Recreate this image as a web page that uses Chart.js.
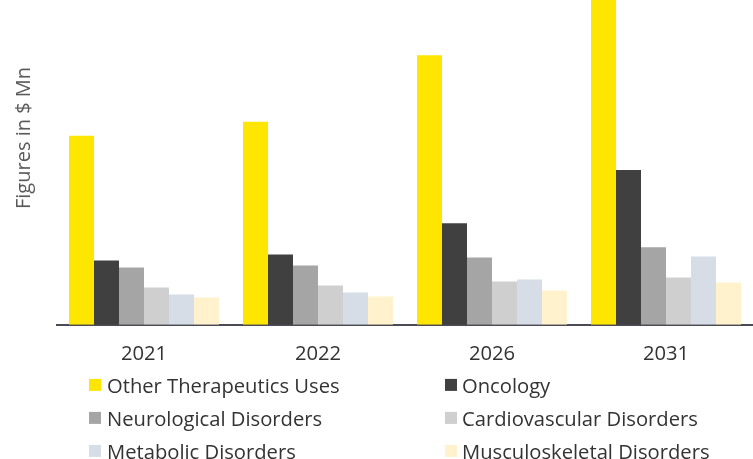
<!DOCTYPE html>
<html>
<head>
<meta charset="utf-8">
<script src="https://cdn.jsdelivr.net/npm/chart.js@4/dist/chart.umd.min.js"></script>
<style>
  html, body { margin: 0; padding: 0; background: #ffffff; }
  #wrap { position: relative; width: 753px; height: 459px; overflow: hidden; }
  #c { position: absolute; left: 0; top: 0; }
  #ytitle {
    position: absolute; left: 23px; top: 138px;
    transform: translate(-50%, -50%) rotate(-90deg);
    font-family: "Open Sans", sans-serif; font-size: 20px; color: #595959;
    white-space: nowrap; line-height: 1;
  }
  .lg { position: absolute; font-family: "Open Sans", sans-serif; font-size: 20.2px; color: #333333;
        white-space: nowrap; line-height: 1; transform: translateY(-50%); }
  .lg span.sw { position: absolute; width: 12px; height: 12px; top: 50%; transform: translateY(-50%); }
</style>
</head>
<body>
<div id="wrap">
  <canvas id="c" width="753" height="459"></canvas>
  <div id="ytitle">Figures in $ Mn</div>
  <div id="legend"></div>
</div>
<script>
// ---- data ----
const categories = ["2021", "2022", "2026", "2031"];
const seriesNames = [
  "Other Therapeutics Uses",
  "Oncology",
  "Neurological Disorders",
  "Cardiovascular Disorders",
  "Metabolic Disorders",
  "Musculoskeletal Disorders"
];
const otherTherapeutics = [188, 202, 268, 380];
const oncology = [64, 70, 101, 154];
const neurological = [57, 59, 67, 77];
const cardiovascular = [37, 39, 43, 47];
const metabolic = [30, 32, 45, 68];
const musculoskeletal = [27, 28, 34, 42];
const yAxisTitle = "Figures in $ Mn";

const seriesValues = [otherTherapeutics, oncology, neurological, cardiovascular, metabolic, musculoskeletal];
const colors = ["#FFE600", "#404040", "#A5A5A5", "#D0CFCF", "#D6DDE6", "#FFF2CC"];

const datasets = seriesNames.map((name, i) => ({
  label: name,
  data: seriesValues[i],
  backgroundColor: colors[i],
  borderWidth: 0,
  categoryPercentage: 0.862,
  barPercentage: 1.0
}));

new Chart(document.getElementById("c"), {
  type: "bar",
  data: { labels: categories, datasets: datasets },
  options: {
    responsive: false,
    animation: false,
    devicePixelRatio: 1,
    layout: { padding: { left: 57, right: 0, top: 0, bottom: 76 } },
    plugins: { legend: { display: false }, tooltip: { enabled: false } },
    scales: {
      x: {
        grid: { display: false, drawTicks: false },
        border: { display: true, color: "#4B4B55", width: 2 },
        ticks: { color: "#333333", padding: 17, font: { family: "Open Sans", size: 20.2 } }
      },
      y: {
        display: false,
        min: 0,
        max: 323
      }
    }
  }
});

document.getElementById("ytitle").textContent = yAxisTitle;

// legend (two columns)
const legendEl = document.getElementById("legend");
const colX = [89, 445];
const rowY = [385, 418, 451];
seriesNames.forEach((name, i) => {
  const col = i % 2, row = Math.floor(i / 2);
  const d = document.createElement("div");
  d.className = "lg";
  d.style.left = colX[col] + "px";
  d.style.top = rowY[row] + "px";
  d.style.paddingLeft = (col === 0 ? 18 : 17) + "px";
  const sw = document.createElement("span");
  sw.className = "sw";
  sw.style.left = "0px";
  sw.style.background = colors[i];
  d.appendChild(sw);
  d.appendChild(document.createTextNode(name));
  legendEl.appendChild(d);
});
</script>
</body>
</html>
